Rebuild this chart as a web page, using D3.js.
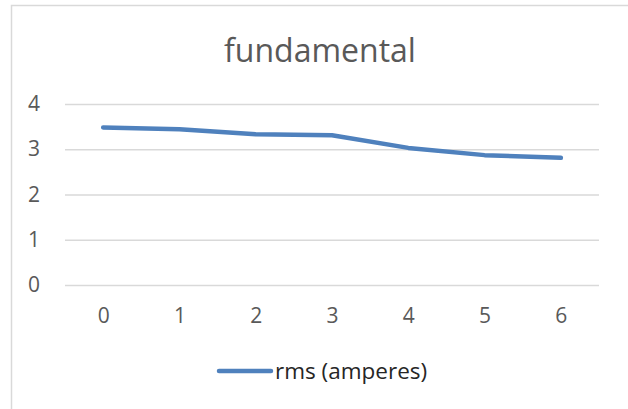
<!DOCTYPE html>
<html>
<head>
<meta charset="utf-8">
<script src="https://cdn.jsdelivr.net/npm/d3@7"></script>
<style>
  html, body { margin: 0; padding: 0; background: #ffffff; }
  svg { display: block; }
  text { font-family: "Open Sans", "Noto Sans", sans-serif; }
</style>
</head>
<body>
<svg id="chart" width="628" height="409"></svg>
<script>
// Series data
const categories = ["0", "1", "2", "3", "4", "5", "6"];
const rmsValues = [3.48, 3.44, 3.33, 3.31, 3.03, 2.87, 2.81];
const yTicks = [0, 1, 2, 3, 4];
const seriesName = "rms (amperes)";
const chartTitle = "fundamental";

const svg = d3.select("#chart");
const W = 628, H = 409;
const plot = { left: 65, right: 599, top: 104, bottom: 285 };

// Chart frame (extends past the visible area on the right and bottom)
svg.append("rect")
  .attr("x", 11.5).attr("y", 5.5)
  .attr("width", W + 20).attr("height", H + 20)
  .attr("fill", "#ffffff")
  .attr("stroke", "#d9d9d9")
  .attr("stroke-width", 1.5);

const x = d3.scalePoint().domain(categories).range([plot.left, plot.right]).padding(0.5);
const y = d3.scaleLinear().domain([0, 4]).range([plot.bottom, plot.top]);

// Title
svg.append("text")
  .attr("x", 320).attr("y", 62)
  .attr("text-anchor", "middle")
  .attr("font-size", 32)
  .attr("fill", "#595959")
  .text(chartTitle);

// Horizontal gridlines + y labels
const yAxis = d3.axisLeft(y).tickValues(yTicks).tickSize(-(plot.right - plot.left)).tickPadding(25).tickFormat(d3.format("d"));
const gy = svg.append("g").attr("transform", `translate(${plot.left},0)`).call(yAxis);
gy.select(".domain").remove();
gy.selectAll(".tick line").attr("stroke", "#d9d9d9").attr("stroke-width", 1.5);
gy.selectAll(".tick text")
  .attr("fill", "#595959")
  .attr("font-size", 21)
  .attr("font-family", "Open Sans, Noto Sans, sans-serif");

// Category labels
const xAxis = d3.axisBottom(x).tickSize(0).tickPadding(23);
const gx = svg.append("g").attr("transform", `translate(0,${plot.bottom})`).call(xAxis);
gx.select(".domain").remove();
gx.selectAll(".tick text")
  .attr("fill", "#595959")
  .attr("font-size", 21)
  .attr("font-family", "Open Sans, Noto Sans, sans-serif");

// Series line
const line = d3.line()
  .x((d, i) => x(categories[i]))
  .y(d => y(d));

svg.append("path")
  .datum(rmsValues)
  .attr("d", line)
  .attr("fill", "none")
  .attr("stroke", "#4f81bd")
  .attr("stroke-width", 4.5)
  .attr("stroke-linecap", "round")
  .attr("stroke-linejoin", "round");

// Legend
const lg = svg.append("g").attr("transform", "translate(0,371)");
lg.append("line")
  .attr("x1", 219).attr("x2", 271)
  .attr("y1", 0).attr("y2", 0)
  .attr("stroke", "#4f81bd")
  .attr("stroke-width", 4.5)
  .attr("stroke-linecap", "round");
lg.append("text")
  .attr("x", 275).attr("y", 8)
  .attr("font-size", 22.5)
  .attr("fill", "#262626")
  .text(seriesName);
</script>
</body>
</html>
